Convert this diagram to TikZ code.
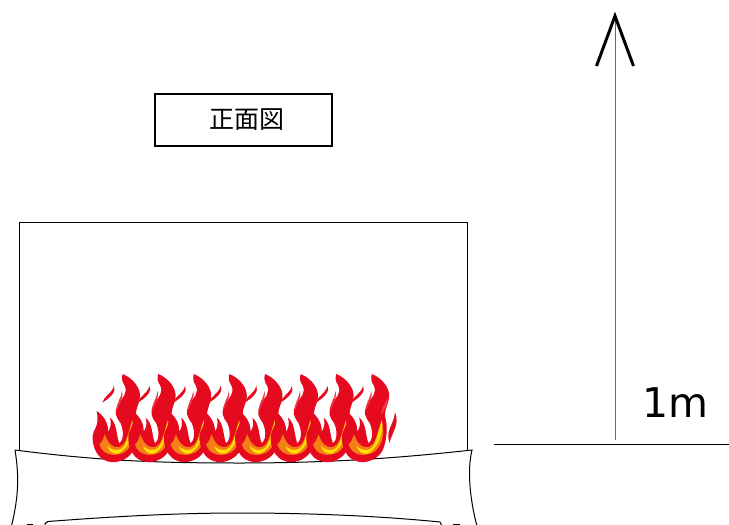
\documentclass[tikz,border=0pt]{standalone}
\usepackage{fontspec}
\newfontfamily\jpfont{Noto Sans CJK JP}
\newfontfamily\dvfont{DejaVu Sans}
\usetikzlibrary{calc}
\definecolor{flamered}{HTML}{E60A1E}
\definecolor{flameorange}{HTML}{F57F17}
\definecolor{flameyellow}{HTML}{FFE000}
\tikzset{
  room/.style={draw=black,line width=.8pt},
  baseline/.style={draw=black,line width=1pt},
  titlebox/.style={draw=black,line width=1.3pt,minimum width=177pt,minimum height=52pt,inner sep=0pt,font=\jpfont\fontsize{25}{25}\selectfont},
  flame/.pic={
    \begin{scope}[x=.3333pt,y=-.3333pt]
    \fill[flamered] (128,27) .. controls (160,40) and (182,70) .. (180,95)
      .. controls (178,120) and (162,135) .. (170,165)
      .. controls (176,190) and (172,235) .. (158,260)
      .. controls (142,286) and (105,298) .. (80,288)
      .. controls (52,280) and (36,245) .. (38,212)
      .. controls (38,195) and (60,185) .. (50,138)
      .. controls (70,150) and (86,175) .. (84,200)
      .. controls (92,190) and (95,175) .. (90,158)
      .. controls (112,175) and (108,210) .. (118,235)
      .. controls (128,228) and (134,205) .. (122,175)
      .. controls (108,155) and (101,145) .. (114,118)
      .. controls (126,98) and (146,85) .. (133,60)
      .. controls (126,50) and (124,40) .. (128,27) -- cycle;
    \fill[flamered] (102,62) .. controls (110,80) and (92,97) .. (67,113)
      .. controls (72,92) and (95,88) .. (102,62) -- cycle;
    \fill[flamered!80!white] (126,78) .. controls (132,100) and (116,115) .. (111,138)
      .. controls (106,115) and (125,100) .. (126,78) -- cycle;
    \fill[flameorange] (58,238) .. controls (66,232) and (70,222) .. (74,208)
      .. controls (80,220) and (84,232) .. (92,238)
      .. controls (110,254) and (128,248) .. (138,225)
      .. controls (146,205) and (150,185) .. (157,165)
      .. controls (170,205) and (158,245) .. (133,262)
      .. controls (105,276) and (68,272) .. (58,238) -- cycle;
    \fill[flameyellow] (82,242) .. controls (95,258) and (125,262) .. (135,238)
      .. controls (145,215) and (150,190) .. (158,168)
      .. controls (163,205) and (148,248) .. (115,266)
      .. controls (98,268) and (86,258) .. (82,242) -- cycle;
    \end{scope}
  }
}
\begin{document}
\begin{tikzpicture}[x=1pt,y=-1pt]
\useasboundingbox (0,0) rectangle (729,525);
\clip (0,0) rectangle (729,525);
% room: three sides, standing on the base
\coordinate (roomBL) at (19.5,451);
\coordinate (roomTL) at (19.5,222);
\coordinate (roomTR) at (467,222);
\coordinate (roomBR) at (467,451);
\draw[room] (roomBL) -- (roomTL) -- (roomTR) -- (roomBR);
% base
\draw[baseline] (15,450) .. controls (100,461) and (160,463) .. (240,463) .. controls (330,463) and (400,458) .. (472,450)
  .. controls (467,470) and (470,500) .. (477,526);
\draw[baseline] (15,450) .. controls (19,475) and (19,495) .. (11.5,526);
\draw[baseline] (45,526) -- (45,523.5) .. controls (46,522) .. (48,521.5) .. controls (120,516) and (180,513) .. (240,513) .. controls (310,513) and (380,516) .. (440,522) -- (442,526);
\draw[baseline] (27,524.5) -- (33,524.5);
\draw[baseline] (453,524.5) -- (460,524.5);
% flames
\foreach \i in {0,...,7}{
  \pic at ({80+35.6*\i},365) {flame};
}
\fill[flamered] (395,412) .. controls (400,425) and (392,432) .. (389.5,443) .. controls (385,430) and (394,425) .. (395,412) -- cycle;
\fill[flamered!80!white] (388,398) .. controls (388,406) and (384,410) .. (381,415) .. controls (381,408) and (385,403) .. (388,398) -- cycle;
% title
\node[titlebox] (title) at (243.5,120) {\raisebox{1.5pt}{\hspace*{7pt}正面図}};
% scale
\coordinate (groundL) at (494,444);
\coordinate (groundR) at (729,444);
\draw[line width=1pt] (groundL) -- (groundR);
\coordinate (arrowfoot) at (615,440);
\coordinate (arrowtip) at (615,16);
\coordinate (headL) at (596.5,66);
\coordinate (headR) at (633.5,66);
\draw[black!60,line width=1pt] (arrowfoot) -- (arrowtip);
\draw[line width=3pt,miter limit=10] (headL) -- (arrowtip) -- (headR);
\node[font=\dvfont\fontsize{41}{41}\selectfont,inner sep=0pt,anchor=center] (onem) at (675.5,403) {1m};
\end{tikzpicture}
\end{document}
